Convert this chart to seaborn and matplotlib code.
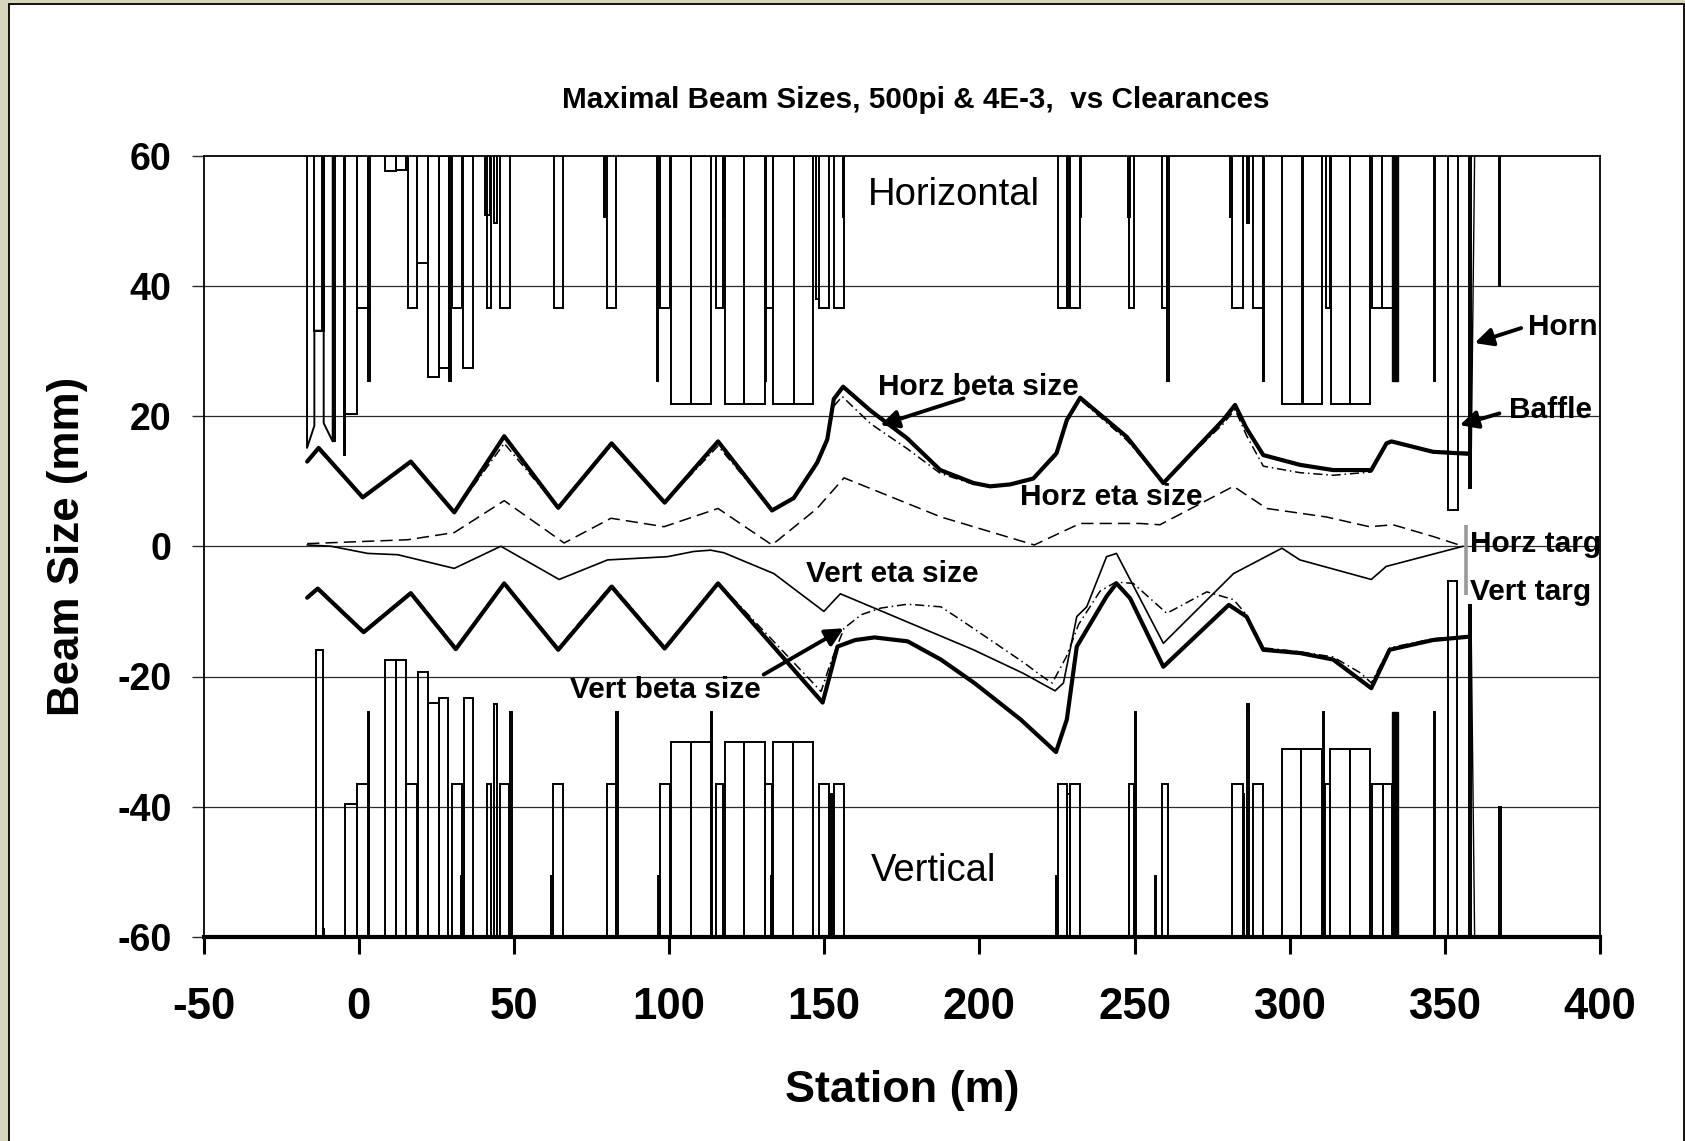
import matplotlib
matplotlib.use("Agg")
import matplotlib.pyplot as plt
from matplotlib.patches import Rectangle
import seaborn as sns

# ---------------- beam envelopes (mm) vs station (m) ----------------
hbeta_s = [-16.6, -12.9, 1.3, 16.8, 30.8, 46.9, 64.3, 81.5, 98.6, 115.8, 133.2, 140.2,
           147.7, 151.0, 153.1, 156.1, 165.0, 176.7, 187.4, 198.2, 203.5, 210.0, 217.4,
           224.9, 228.2, 232.5, 247.5, 259.3, 278.6, 282.4, 286.1, 291.5, 303.3, 314.0,
           326.3, 331.2, 332.8, 346.2, 357.5]
hbeta_v = [13.0, 15.1, 7.5, 13.0, 5.2, 16.9, 5.9, 15.8, 6.7, 16.1, 5.5, 7.4,
           12.8, 16.4, 22.6, 24.5, 20.8, 16.6, 11.7, 9.7, 9.2, 9.5, 10.4,
           14.3, 19.4, 22.8, 16.8, 9.7, 19.4, 21.7, 18.1, 14.0, 12.5, 11.7,
           11.7, 15.8, 16.1, 14.5, 14.2]

hbeta2_s = [-16.6, -12.9, 1.3, 16.8, 30.8, 46.9, 64.3, 81.5, 98.6, 115.8, 133.2, 140.2,
            147.7, 151.0, 153.1, 155.8, 165.0, 176.7, 187.4, 198.2, 203.5, 210.0, 217.4,
            224.9, 228.2, 232.5, 247.5, 259.3, 278.6, 282.4, 286.1, 291.5, 303.3, 314.0,
            326.3, 331.2, 332.8, 346.2, 357.5]
hbeta2_v = [13.0, 14.8, 7.5, 12.8, 5.2, 15.8, 5.9, 15.5, 6.7, 15.4, 5.5, 7.4,
            12.5, 16.0, 21.5, 23.0, 18.8, 15.0, 11.2, 9.5, 9.2, 9.5, 10.4,
            14.0, 19.0, 22.5, 16.3, 9.9, 18.8, 21.0, 17.0, 12.3, 11.3, 10.9,
            11.4, 15.6, 16.0, 14.6, 14.4]

heta_s = [-16.6, 15.8, 30.8, 46.9, 66.2, 81.3, 98.4, 115.8, 133.2, 147.7, 156.4, 187.6,
          217.7, 232.5, 251.8, 258.2, 281.9, 292.6, 311.8, 325.7, 333.3, 346.2, 355.9]
heta_v = [0.4, 1.0, 2.1, 7.0, 0.5, 4.3, 3.0, 5.8, 0.2, 5.8, 10.5, 4.5,
          0.2, 3.5, 3.5, 3.3, 9.2, 5.8, 4.5, 3.0, 3.3, 1.5, 0.0]

veta_s = [-16.6, -8.9, 2.9, 12.6, 30.8, 45.8, 64.6, 80.2, 99.5, 108.0, 113.4, 117.7,
          133.8, 149.9, 155.2, 170.2, 198.1, 214.1, 224.4, 227.1, 231.4, 234.6, 241.0,
          244.2, 259.3, 281.9, 297.5, 303.3, 326.3, 331.1, 355.9]
veta_v = [0.2, 0.0, -1.1, -1.3, -3.4, 0.0, -5.1, -2.1, -1.6, -0.8, -0.6, -1.0,
          -4.2, -10.0, -7.3, -10.3, -15.9, -19.5, -22.2, -21.0, -10.8, -9.3, -1.6,
          -1.1, -14.9, -4.2, -0.3, -2.1, -5.1, -3.1, 0.0]

vbeta_s = [-16.6, -13.2, 1.6, 16.8, 31.3, 46.9, 64.3, 81.5, 98.6, 115.8, 149.5, 154.3,
           160.0, 166.2, 176.9, 187.6, 198.4, 213.3, 224.7, 228.2, 231.4, 241.0, 244.2,
           248.6, 259.3, 280.4, 286.1, 291.5, 303.3, 314.0, 326.3, 332.2, 346.2, 357.5]
vbeta_v = [-7.9, -6.5, -13.2, -7.2, -15.8, -5.7, -15.9, -6.2, -15.7, -5.7, -24.0, -15.4,
           -14.4, -14.0, -14.6, -17.4, -21.0, -26.6, -31.6, -26.6, -15.4, -7.7, -5.7,
           -8.0, -18.5, -9.0, -10.8, -15.9, -16.4, -17.4, -21.8, -15.9, -14.4, -13.9]

vbeta2_s = [-16.6, -13.2, 1.6, 16.8, 31.3, 46.9, 64.3, 81.5, 98.6, 115.8, 149.0, 152.0,
            156.4, 162.0, 168.2, 176.8, 187.6, 194.0, 203.6, 214.4, 220.9, 223.5, 228.0,
            232.0, 238.9, 244.0, 249.6, 260.4, 273.3, 281.9, 286.1, 291.5, 303.3, 314.0,
            323.0, 326.3, 332.2, 346.2, 357.5]
vbeta2_v = [-7.9, -6.3, -13.0, -7.0, -15.5, -5.7, -15.6, -5.9, -15.4, -5.6, -22.3, -18.0,
            -12.6, -10.5, -9.5, -8.9, -9.3, -11.3, -14.4, -17.9, -20.2, -21.0, -17.0,
            -12.0, -6.9, -5.5, -5.7, -10.3, -7.0, -8.2, -10.5, -15.6, -16.2, -17.0,
            -19.5, -21.0, -15.6, -14.2, -13.8]

# ---------------- horizontal clearances (hang from +60) ----------------
h_start = [-14.28, -11.90, -8.37, -4.62, -4.62, -0.55, 3.10, 8.46, 12.10, 15.77, 18.76,
           22.21, 25.95, 29.17, 29.93, 33.47, 40.65, 41.20, 43.65, 45.58, 62.96, 79.05,
           79.92, 96.01, 97.09, 100.70, 107.20, 115.00, 117.50, 117.90, 124.30, 130.80,
           131.40, 133.60, 140.20, 147.50, 148.40, 153.30, 156.10, 225.20, 228.20, 229.30,
           232.30, 248.00, 248.30, 258.80, 260.40, 280.80, 281.40, 286.10, 288.10, 291.30,
           297.60, 304.20, 311.70, 312.90, 313.40, 319.50, 326.40, 329.60, 346.50, 351.00,
           357.70, 367.50]
h_end = [-11.27, -11.27, -7.63, -4.25, -0.55, 3.10, 3.70, 12.10, 15.22, 18.76, 22.21,
         25.95, 29.17, 29.60, 33.15, 36.69, 42.37, 42.60, 44.51, 48.70, 65.98, 79.45,
         82.82, 96.60, 100.29, 107.20, 113.40, 117.50, 117.90, 124.30, 130.80, 131.40,
         133.60, 140.20, 146.40, 148.20, 151.70, 156.50, 156.50, 228.20, 228.90, 232.30,
         232.90, 248.50, 249.90, 260.40, 261.20, 281.40, 285.00, 286.90, 291.30, 291.80,
         304.00, 310.30, 313.00, 313.40, 319.50, 325.90, 329.60, 333.20, 346.90, 354.20,
         358.30, 367.90]
h_edge = [33.1, 33.1, 16.1, 14.0, 20.3, 36.6, 25.4, 57.6, 57.8, 36.6, 43.5,
          26.0, 27.4, 25.4, 36.6, 27.4, 50.9, 36.6, 49.7, 36.6, 36.6, 50.6,
          36.6, 25.4, 36.6, 21.9, 21.9, 36.6, 50.6, 21.9, 21.9, 25.4,
          36.6, 21.9, 21.9, 38.0, 36.6, 36.6, 50.6, 36.6, 36.6, 36.6,
          50.6, 50.6, 36.6, 36.6, 25.4, 50.6, 36.6, 49.7, 36.6, 25.4,
          21.9, 21.9, 36.6, 36.6, 21.9, 21.9, 36.6, 36.6, 25.4, 5.5,
          9.0, 40.0]
# tapered collimator profile at the upstream end
h_taper_s = [-16.64, -16.64, -14.28, -14.28, -11.27, -11.27, -8.37, -8.37]
h_taper_v = [60.0, 15.1, 18.5, 33.1, 33.1, 18.9, 16.1, 60.0]
# horn conductor
horn_s = [359.6, 358.4]
horn_top_v = [60.0, 9.0]
horn_bot_v = [-60.0, -9.0]

# ---------------- vertical clearances (rise from -60) ----------------
v_start = [-13.74, -11.59, -4.30, -0.55, 2.90, 8.46, 12.00, 15.22, 19.19, 22.21, 25.95,
           29.93, 32.93, 33.79, 41.29, 43.65, 45.58, 48.70, 62.12, 62.76, 79.92, 83.04,
           96.44, 97.09, 100.70, 107.20, 113.60, 115.00, 118.00, 124.30, 130.80, 132.90,
           133.60, 140.00, 148.40, 151.60, 152.10, 153.30, 224.60, 225.20, 228.30, 229.30,
           248.30, 250.00, 256.50, 258.80, 281.30, 284.90, 286.10, 288.10, 297.60, 303.80,
           310.60, 311.30, 313.10, 319.50, 326.40, 330.00, 346.40, 351.00, 357.70, 367.50]
v_end = [-11.59, -11.06, -0.55, 2.90, 3.30, 12.00, 15.22, 18.76, 22.21, 25.95, 28.85,
         33.15, 33.50, 36.79, 42.80, 44.51, 48.49, 49.34, 62.60, 65.98, 82.82, 83.56,
         97.00, 100.29, 107.20, 113.40, 114.00, 117.50, 124.30, 130.80, 133.30, 133.40,
         140.00, 146.40, 151.70, 152.10, 152.90, 156.50, 225.10, 228.20, 229.20, 232.50,
         249.90, 250.50, 257.00, 260.70, 285.00, 285.40, 286.90, 291.30, 303.80, 310.30,
         311.00, 312.90, 319.50, 325.90, 330.00, 333.00, 346.90, 353.90, 358.30, 368.00]
v_edge = [-15.9, -58.7, -39.6, -36.5, -25.4, -17.5, -17.5, -36.5, -19.3, -24.1, -23.3,
          -36.5, -50.7, -23.3, -36.5, -24.2, -36.5, -25.4, -50.7, -36.5, -36.5, -25.4,
          -50.7, -36.5, -30.0, -30.0, -25.4, -36.5, -30.0, -30.0, -36.5, -50.7,
          -30.0, -30.0, -36.5, -50.7, -38.1, -36.5, -50.7, -36.5, -38.1, -36.5,
          -36.5, -25.4, -50.7, -36.5, -36.5, -38.1, -24.2, -36.5, -31.1, -31.1,
          -25.4, -36.5, -31.1, -31.1, -36.5, -36.5, -25.4, -5.4, -9.0, -40.0]

# solid magnet block near the end of the line
blk_start, blk_end = 333.1, 335.0
blk_top_edge, blk_bot_edge = 25.4, -25.4

# target marker
targ_s = [356.7, 356.7]
targ_v = [3.3, -7.5]

x_ticks = [-50, 0, 50, 100, 150, 200, 250, 300, 350, 400]
y_ticks = [-60, -40, -20, 0, 20, 40, 60]

# ---------------- style ----------------
sns.set_theme(style="white")
plt.rcParams["font.family"] = ["Liberation Sans", "DejaVu Sans"]
plt.rcParams["axes.unicode_minus"] = False
for key in ["text.color", "axes.labelcolor", "xtick.color", "ytick.color"]:
    plt.rcParams[key] = "black"

W, H = 1685, 1141
fig = plt.figure(figsize=(W / 100, H / 100), dpi=100)
fig.patch.set_facecolor("#d9d4bc")
fig.patches.append(Rectangle((8.5 / W, -0.01), (W - 9.5) / W, 1.01 - 3.5 / H,
                             transform=fig.transFigure, facecolor="white",
                             edgecolor="black", linewidth=1.3, zorder=-10))

ax = fig.add_axes([203.5 / W, 1 - 937 / H, (1600 - 203.5) / W, (937 - 155.5) / H])
ax.set_zorder(1)
ax.set_facecolor("white")
ax.set_xlim(-50, 400)
ax.set_ylim(-60, 60)

for g in [-40, -20, 0, 20, 40]:
    ax.axhline(g, color="#2a2a2a", lw=0.9, zorder=1)

# clearance boxes
bw = 1.4
top_w = [e - s for s, e in zip(h_start, h_end)]
ax.bar(h_start, [60 - v for v in h_edge], width=top_w, bottom=h_edge, align="edge",
       fill=False, edgecolor="black", linewidth=bw, zorder=2)
bot_w = [e - s for s, e in zip(v_start, v_end)]
ax.bar(v_start, [v + 60 for v in v_edge], width=bot_w, bottom=-60, align="edge",
       fill=False, edgecolor="black", linewidth=bw, zorder=2)
ax.bar([blk_start], [60 - blk_top_edge], width=blk_end - blk_start, bottom=blk_top_edge,
       align="edge", color="black", edgecolor="black", linewidth=1, zorder=2)
ax.bar([blk_start], [blk_bot_edge + 60], width=blk_end - blk_start, bottom=-60,
       align="edge", color="black", edgecolor="black", linewidth=1, zorder=2)
ax.plot(h_taper_s, h_taper_v, color="black", lw=bw, zorder=2)
ax.plot(horn_s, horn_top_v, color="black", lw=1.0, zorder=2)
ax.plot(horn_s, horn_bot_v, color="black", lw=1.0, zorder=2)
ax.plot(targ_s, targ_v, color="#999999", lw=2.6, zorder=2, solid_capstyle="butt")

# beam envelopes
dashdot = (0, (6, 2.5, 1, 2.5))
sns.lineplot(x=hbeta2_s, y=hbeta2_v, ax=ax, sort=False, estimator=None, color="black",
             lw=1.1, linestyle=dashdot, zorder=3)
sns.lineplot(x=vbeta2_s, y=vbeta2_v, ax=ax, sort=False, estimator=None, color="black",
             lw=1.1, linestyle=dashdot, zorder=3)
sns.lineplot(x=heta_s, y=heta_v, ax=ax, sort=False, estimator=None, color="black",
             lw=1.1, linestyle=(0, (8, 4)), zorder=3)
sns.lineplot(x=veta_s, y=veta_v, ax=ax, sort=False, estimator=None, color="black",
             lw=1.2, zorder=3)
sns.lineplot(x=hbeta_s, y=hbeta_v, ax=ax, sort=False, estimator=None, color="black",
             lw=3.0, zorder=4)
sns.lineplot(x=vbeta_s, y=vbeta_v, ax=ax, sort=False, estimator=None, color="black",
             lw=3.0, zorder=4)

# axes
for side in ["top", "left", "right"]:
    ax.spines[side].set_color("black")
    ax.spines[side].set_linewidth(1.3)
ax.spines["bottom"].set_color("black")
ax.spines["bottom"].set_linewidth(3.0)
ax.set_xticks(x_ticks)
ax.set_yticks(y_ticks)
ax.tick_params(axis="x", direction="out", length=12, width=2.2, color="black",
               labelcolor="black", pad=24, labelsize=31.5, bottom=True)
ax.tick_params(axis="y", direction="out", length=9, width=1.0, color="#2a2a2a",
               labelcolor="black", pad=14, labelsize=27, left=True)
for lab in ax.get_xticklabels() + ax.get_yticklabels():
    lab.set_fontweight("bold")
ax.set_xlabel("Station (m)", fontsize=32.4, fontweight="bold", color="black")
ax.set_ylabel("Beam Size (mm)", fontsize=31.6, fontweight="bold", color="black")
ax.xaxis.set_label_coords(0.5, -0.170)
ax.yaxis.set_label_coords(-0.0826, 0.5)
title = ax.set_title("Maximal Beam Sizes, 500pi & 4E-3,  vs Clearances", fontsize=21.3,
                     fontweight="bold", color="black", y=1.05)
title.set_x(0.51)

# annotations
ax.text(191.9, 53.9, "Horizontal", fontsize=27.5, ha="center", va="center", zorder=5)
ax.text(185.3, -49.9, "Vertical", fontsize=27.5, ha="center", va="center", zorder=5)
fs = 21.5
arrow = dict(arrowstyle="-|>,head_length=0.9,head_width=0.45", color="black", lw=2.8,
             shrinkA=0, shrinkB=0)
ax.text(199.6, 24.5, "Horz beta size", fontsize=fs, fontweight="bold", ha="center",
        va="center", zorder=5)
ax.annotate("", xy=(168.1, 18.6), xytext=(194.9, 22.7), arrowprops=arrow, zorder=5)
ax.text(242.5, 7.5, "Horz eta size", fontsize=fs, fontweight="bold", ha="center",
        va="center", zorder=5)
ax.text(171.9, -4.2, "Vert eta size", fontsize=fs, fontweight="bold", ha="center",
        va="center", zorder=5)
ax.text(98.7, -22.0, "Vert beta size", fontsize=fs, fontweight="bold", ha="center",
        va="center", zorder=5)
ax.annotate("", xy=(156.3, -12.6), xytext=(130.5, -19.7), arrowprops=arrow, zorder=5)
ax.text(376.7, 33.7, "Horn", fontsize=fs, fontweight="bold", ha="left", va="center",
        zorder=5, clip_on=False)
ax.annotate("", xy=(359.6, 31.2), xytext=(374.6, 33.5), arrowprops=arrow, zorder=5)
ax.text(370.6, 20.9, "Baffle", fontsize=fs, fontweight="bold", ha="left", va="center",
        zorder=5, clip_on=False)
ax.annotate("", xy=(354.8, 18.6), xytext=(367.6, 20.4), arrowprops=arrow, zorder=5)
ax.text(358.0, 0.4, "Horz targ", fontsize=fs, fontweight="bold", ha="left", va="center",
        zorder=5, clip_on=False)
ax.text(358.0, -7.0, "Vert targ", fontsize=fs, fontweight="bold", ha="left", va="center",
        zorder=5, clip_on=False)

fig.savefig("out.png", dpi=100, facecolor=fig.get_facecolor())
